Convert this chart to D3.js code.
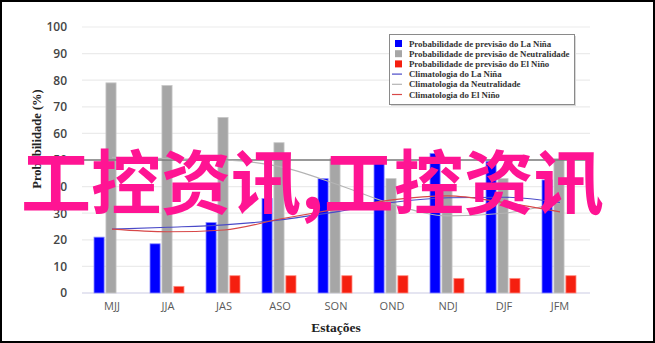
<!DOCTYPE html>
<html><head><meta charset="utf-8">
<script src="https://cdn.jsdelivr.net/npm/d3@7"></script>
<style>body{margin:0;background:#fff}svg{display:block}</style>
</head><body>
<svg id="c" width="655" height="343"></svg>
<script>
const categories = ["MJJ","JJA","JAS","ASO","SON","OND","NDJ","DJF","JFM"];
const laNina   = [21, 18.5, 26.5, 35.5, 43, 49, 52.5, 49.5, 42.5];
const neutral  = [79, 78, 66, 56.5, 50.5, 43, 40.5, 43, 50.5];
const elNino   = [0, 2.5, 6.5, 6.5, 6.5, 6.5, 5.5, 5.5, 6.5];
const climLaNina   = [24, 24.7, 25.6, 27.5, 30.5, 34, 35.8, 36, 34];
const climNeutral  = [51, 50.5, 50, 47.5, 41, 33.5, 29, 30, 34];
const climElNino   = [24, 23, 23.7, 27.8, 31.5, 35, 36.5, 34, 30.5];
const yTicks = [0,10,20,30,40,50,60,70,80,90,100];
const refLine = [50];
const legendLabels = [
  "Probabilidade de previsão do La Niña",
  "Probabilidade de previsão de Neutralidade",
  "Probabilidade de previsão do El Niño",
  "Climatologia do La Niña",
  "Climatologia da Neutralidade",
  "Climatologia do El Niño"
];
const watermark = "工控资讯,工控资讯";

const svg = d3.select("#c");
const x0 = d3.scaleBand().domain(categories).range([84, 588]).padding(0);
const series = ["la","neu","el"];
const x1 = d3.scaleBand().domain(series).range([10, 44]).paddingInner(0.15);
const y = d3.scaleLinear().domain([0,100]).range([293, 27]);
const barColors = {la:"#0000ff", neu:"#a6a6a6", el:"#f51f0f"};
const barStroke = {la:"#8c8cff", neu:"#c8c8c8", el:"#ff8c80"};

// gridlines
svg.append("g").selectAll("line").data(yTicks.filter(d=>d>0)).join("line")
  .attr("x1",82).attr("x2",590).attr("y1",d=>y(d)).attr("y2",d=>y(d))
  .attr("stroke","#ebebeb").attr("stroke-width",1.2);
// baseline
svg.append("line").attr("x1",82).attr("x2",590).attr("y1",y(0)).attr("y2",y(0))
  .attr("stroke","#dcdcec").attr("stroke-width",1.5);

// y axis labels
const yAxis = d3.axisLeft(y).tickValues(yTicks).tickSize(0).tickPadding(0);
const ya = svg.append("g").attr("transform","translate(67,0)").call(yAxis);
ya.select(".domain").remove();
ya.selectAll("text").attr("font-family","Open Sans").attr("font-size",12)
  .attr("font-weight",600).attr("fill","#454545");

// x axis labels
const xAxis = d3.axisBottom(x0).tickSize(0).tickPadding(0);
const xa = svg.append("g").attr("transform","translate(0,302)").call(xAxis);
xa.select(".domain").remove();
xa.selectAll("text").attr("font-family","Open Sans").attr("font-size",11)
  .attr("fill","#5a5a5a").attr("dy","0.71em");

// bars
const data = categories.map((c,i)=>({c, la:laNina[i], neu:neutral[i], el:elNino[i]}));
const g = svg.append("g").selectAll("g").data(data).join("g")
  .attr("transform",d=>`translate(${x0(d.c)},0)`);
g.selectAll("rect").data(d=>series.map(k=>({k,v:d[k]})).filter(e=>e.v>0)).join("rect")
  .attr("x",d=>x1(d.k)).attr("width",x1.bandwidth())
  .attr("y",d=>y(d.v)).attr("height",d=>y(0)-y(d.v))
  .attr("fill",d=>barColors[d.k]).attr("stroke",d=>barStroke[d.k]).attr("stroke-width",0.8);

// 50% reference line
svg.append("g").selectAll("line").data(refLine).join("line")
  .attr("x1",83).attr("x2",590).attr("y1",d=>y(d)).attr("y2",d=>y(d))
  .attr("stroke","#7a7a7a").attr("stroke-width",1.6);

// climatology lines
const cx = c => x0(c) + x0.bandwidth()/2;
const line = d3.line().x((d,i)=>cx(categories[i])).y(d=>y(d)).curve(d3.curveMonotoneX);
[[climNeutral,"#b4b4b4"],[climLaNina,"#4a4ac8"],[climElNino,"#d84848"]].forEach(([arr,col])=>{
  svg.append("path").datum(arr).attr("d",line).attr("fill","none")
    .attr("stroke",col).attr("stroke-width",1.1);
});

// y title
svg.append("text").attr("transform","translate(41,139) rotate(-90)")
  .attr("text-anchor","middle").attr("font-family","Liberation Serif").attr("font-weight","bold")
  .attr("font-size",12.5).attr("fill","#222").text("Probabilidade (%)");
// x title
svg.append("text").attr("x",336).attr("y",332).attr("text-anchor","middle")
  .attr("font-family","Liberation Serif").attr("font-weight","bold")
  .attr("font-size",13.5).attr("fill","#222").text("Estações");

// legend
const lg = svg.append("g");
lg.append("rect").attr("x",391).attr("y",36).attr("width",185).attr("height",70).attr("fill","#d8d8d8");
lg.append("rect").attr("x",389.5).attr("y",34.5).attr("width",185).attr("height",70)
  .attr("fill","#fff").attr("stroke","#8a8a8a").attr("stroke-width",1);
const legColors = ["#0000ff","#a6a6a6","#f51f0f","#4a4ac8","#b4b4b4","#d84848"];
legendLabels.forEach((t,i)=>{
  const yy = 43.5 + i*10.2;
  if(i<3){
    lg.append("rect").attr("x",395).attr("y",yy-3.5).attr("width",7).attr("height",7).attr("fill",legColors[i]);
  } else {
    lg.append("line").attr("x1",392).attr("x2",402).attr("y1",yy).attr("y2",yy)
      .attr("stroke",legColors[i]).attr("stroke-width",1.2);
  }
  lg.append("text").attr("x",409).attr("y",yy+3).attr("font-family","Liberation Serif")
    .attr("font-weight","bold").attr("font-size",8.8).attr("fill","#333").text(t);
});

// watermark
svg.append("text").attr("x",21).attr("y",209).attr("font-family","Noto Sans CJK SC")
  .attr("font-weight","bold").attr("font-size",70).attr("fill","#ff1493").text(watermark);

// frame
svg.append("rect").attr("x",1).attr("y",1).attr("width",653).attr("height",341)
  .attr("fill","none").attr("stroke","#000").attr("stroke-width",2);
</script>
</body></html>
